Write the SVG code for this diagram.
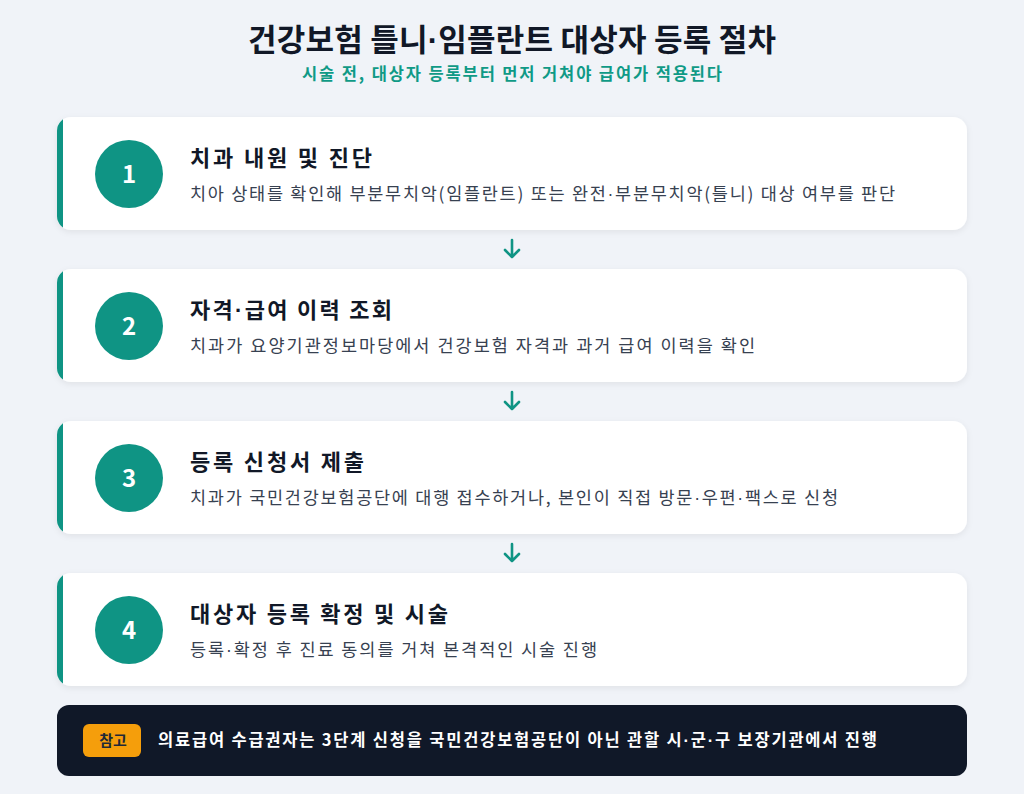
<svg xmlns="http://www.w3.org/2000/svg" width="1024" height="794" viewBox="0 0 1024 794">
<defs>
<style>
text{font-family:"Noto Sans CJK KR","Noto Sans",sans-serif}
.d{font-family:"Liberation Sans","Noto Sans",sans-serif}
.title{font-size:31px;font-weight:700;fill:#111827}
.sub{font-size:16.5px;font-weight:700;fill:#0f9a86}
.card{fill:#ffffff}
.bar{fill:#0f9484}
.circ{fill:#0f9484}
.num{font-size:24px;font-weight:700;fill:#ffffff}
.st{font-size:22px;font-weight:700;fill:#111827}
.sd{font-size:17.5px;fill:#374151}
.arrow{stroke:#0f9484;stroke-width:2.6;fill:none;stroke-linecap:round;stroke-linejoin:round}
.note{font-size:16.5px;font-weight:700;fill:#ffffff}
</style>
<filter id="sh" x="-5%" y="-20%" width="110%" height="140%">
<feDropShadow dx="0" dy="2" stdDeviation="3" flood-color="#0f172a" flood-opacity="0.07"/>
</filter>
<clipPath id="c1"><rect x="57" y="117" width="910" height="113" rx="14"/></clipPath>
<clipPath id="c2"><rect x="57" y="269" width="910" height="113" rx="14"/></clipPath>
<clipPath id="c3"><rect x="57" y="421" width="910" height="113" rx="14"/></clipPath>
<clipPath id="c4"><rect x="57" y="573" width="910" height="113" rx="14"/></clipPath>
</defs>
<rect x="0" y="0" width="1024" height="794" fill="#f0f3f8"/>
<text class="title" x="248" y="51" textLength="528" lengthAdjust="spacing">건강보험 틀니<tspan class="d">·</tspan>임플란트 대상자 등록 절차</text>
<text class="sub" x="302" y="80" textLength="420" lengthAdjust="spacing">시술 전, 대상자 등록부터 먼저 거쳐야 급여가 적용된다</text>

<g id="step1">
<rect class="card" x="57" y="117" width="910" height="113" rx="14" filter="url(#sh)"/>
<rect class="bar" x="57" y="117" width="6" height="113" clip-path="url(#c1)"/>
<circle class="circ" cx="129" cy="174" r="34"/>
<text class="num" x="129" y="183" text-anchor="middle">1</text>
<text class="st" x="190" y="166" textLength="182" lengthAdjust="spacing">치과 내원 및 진단</text>
<text class="sd" x="190" y="200" textLength="705" lengthAdjust="spacing">치아 상태를 확인해 부분무치악(임플란트) 또는 완전<tspan class="d">·</tspan>부분무치악(틀니) 대상 여부를 판단</text>
</g>
<g id="step2">
<rect class="card" x="57" y="269" width="910" height="113" rx="14" filter="url(#sh)"/>
<rect class="bar" x="57" y="269" width="6" height="113" clip-path="url(#c2)"/>
<circle class="circ" cx="129" cy="326" r="34"/>
<text class="num" x="129" y="335" text-anchor="middle">2</text>
<text class="st" x="190" y="318" textLength="202" lengthAdjust="spacing">자격<tspan class="d">·</tspan>급여 이력 조회</text>
<text class="sd" x="190" y="352" textLength="565" lengthAdjust="spacing">치과가 요양기관정보마당에서 건강보험 자격과 과거 급여 이력을 확인</text>
</g>
<g id="step3">
<rect class="card" x="57" y="421" width="910" height="113" rx="14" filter="url(#sh)"/>
<rect class="bar" x="57" y="421" width="6" height="113" clip-path="url(#c3)"/>
<circle class="circ" cx="129" cy="478" r="34"/>
<text class="num" x="129" y="487" text-anchor="middle">3</text>
<text class="st" x="190" y="470" textLength="174" lengthAdjust="spacing">등록 신청서 제출</text>
<text class="sd" x="190" y="504" textLength="648" lengthAdjust="spacing">치과가 국민건강보험공단에 대행 접수하거나, 본인이 직접 방문<tspan class="d">·</tspan>우편<tspan class="d">·</tspan>팩스로 신청</text>
</g>
<g id="step4">
<rect class="card" x="57" y="573" width="910" height="113" rx="14" filter="url(#sh)"/>
<rect class="bar" x="57" y="573" width="6" height="113" clip-path="url(#c4)"/>
<circle class="circ" cx="129" cy="630" r="34"/>
<text class="num" x="129" y="639" text-anchor="middle">4</text>
<text class="st" x="190" y="622" textLength="258" lengthAdjust="spacing">대상자 등록 확정 및 시술</text>
<text class="sd" x="190" y="656" textLength="407" lengthAdjust="spacing">등록<tspan class="d">·</tspan>확정 후 진료 동의를 거쳐 본격적인 시술 진행</text>
</g>

<g id="connectors">
<path class="arrow" d="M512 240 V257 M505 250 L512 257 L519 250"/>
<path class="arrow" d="M512 392 V409 M505 402 L512 409 L519 402"/>
<path class="arrow" d="M512 544 V561 M505 554 L512 561 L519 554"/>
</g>

<g id="note">
<rect x="57" y="705" width="910" height="71" rx="12" fill="#101828"/>
<rect x="83" y="724" width="58" height="33" rx="6" fill="#f59e0b"/>
<text x="113" y="746" text-anchor="middle" style="font-size:15px;font-weight:700;fill:#1f2937">참고</text>
<text class="note" x="158" y="746" textLength="719" lengthAdjust="spacing">의료급여 수급권자는 3단계 신청을 국민건강보험공단이 아닌 관할 시<tspan class="d">·</tspan>군<tspan class="d">·</tspan>구 보장기관에서 진행</text>
</g>
</svg>
